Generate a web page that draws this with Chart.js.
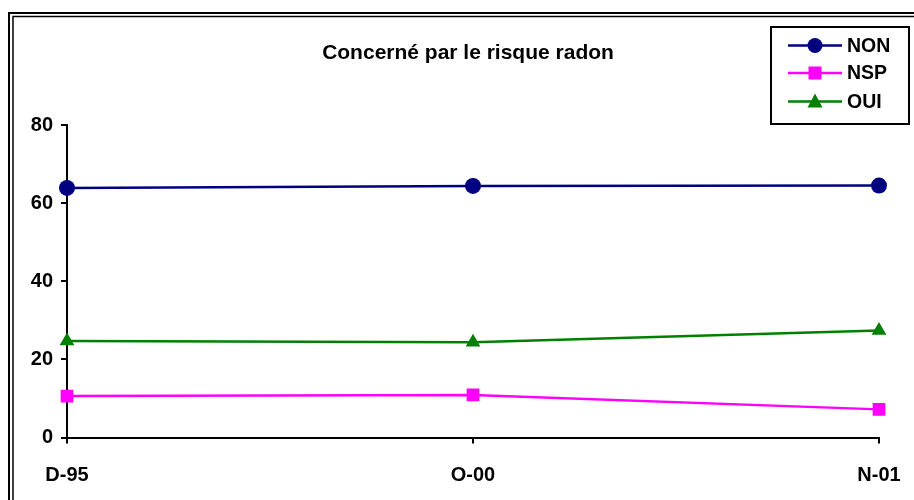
<!DOCTYPE html>
<html>
<head>
<meta charset="utf-8">
<script src="https://cdn.jsdelivr.net/npm/chart.js@4/dist/chart.umd.min.js"></script>
<style>
  html, body { margin: 0; padding: 0; background: #fff; }
  #wrap { width: 914px; height: 500px; }
</style>
</head>
<body>
<div id="wrap"><canvas id="radonChart" width="914" height="500"></canvas></div>
<script>
const chartTitle = "Concerné par le risque radon";
const periods = ["D-95", "O-00", "N-01"];
const nonValues = [63.9, 64.4, 64.5];
const nspValues = [10.6, 10.9, 7.2];
const ouiValues = [24.7, 24.4, 27.4];
const yTicks = [0, 20, 40, 60, 80];

const FONT = "'Liberation Sans', Arial, sans-serif";

/* ---------- frame, title, legend ---------- */

const decorPlugin = {
  id: "decor",
  afterDraw(chart) {
    const ctx = chart.ctx;
    ctx.save();

    // double border round the chart
    ctx.strokeStyle = "#000";
    ctx.lineWidth = 2;
    ctx.strokeRect(9, 13, 940, 520);
    ctx.lineWidth = 1.5;
    ctx.strokeRect(13, 16.5, 940, 520);

    // title
    ctx.fillStyle = "#000";
    ctx.font = "bold 21px " + FONT;
    ctx.textAlign = "center";
    ctx.textBaseline = "middle";
    ctx.fillText(chartTitle, 468, 53);

    // legend box
    ctx.lineWidth = 2;
    ctx.strokeRect(771, 27, 138, 97);
    ctx.fillStyle = "#fff";
    ctx.fillRect(772, 28, 136, 95);

    const rows = [45.5, 73, 101.5];
    chart.data.datasets.forEach((ds, i) => {
      const y = rows[i];
      ctx.strokeStyle = ds.borderColor;
      ctx.lineWidth = 2.5;
      ctx.beginPath();
      ctx.moveTo(788, y);
      ctx.lineTo(842, y);
      ctx.stroke();
      drawMarker(ctx, ds.pointStyle, 815, y, ds.borderColor);
      ctx.fillStyle = "#000";
      ctx.font = "bold 19.5px " + FONT;
      ctx.textAlign = "left";
      ctx.textBaseline = "middle";
      ctx.fillText(ds.label, 847, y + 1);
    });

    ctx.restore();
  }
};

function drawMarker(ctx, style, x, y, color) {
  ctx.fillStyle = color;
  ctx.beginPath();
  if (style === "circle") {
    ctx.arc(x, y, 7.5, 0, Math.PI * 2);
  } else if (style === "rect") {
    ctx.rect(x - 6.5, y - 6.5, 13, 13);
  } else {
    ctx.moveTo(x, y - 8);
    ctx.lineTo(x + 7.5, y + 6);
    ctx.lineTo(x - 7.5, y + 6);
    ctx.closePath();
  }
  ctx.fill();
}

/* ---------- Chart ---------- */

new Chart(document.getElementById("radonChart"), {
  type: "line",
  data: {
    labels: periods,
    datasets: [
      {
        label: "NON",
        data: nonValues,
        borderColor: "#000080",
        backgroundColor: "#000080",
        pointStyle: "circle",
        pointRadius: 8
      },
      {
        label: "NSP",
        data: nspValues,
        borderColor: "#FF00FF",
        backgroundColor: "#FF00FF",
        pointStyle: "rect",
        pointRadius: 9
      },
      {
        label: "OUI",
        data: ouiValues,
        borderColor: "#008000",
        backgroundColor: "#008000",
        pointStyle: "triangle",
        pointRadius: 8.5
      }
    ]
  },
  options: {
    responsive: false,
    animation: false,
    layout: { padding: { left: 0, right: 35, top: 125, bottom: 0 } },
    elements: {
      line: { borderWidth: 2.5, tension: 0, fill: false },
      point: { borderWidth: 0, hoverRadius: 8 }
    },
    plugins: {
      legend: { display: false },
      title: { display: false },
      tooltip: { enabled: false }
    },
    scales: {
      x: {
        offset: false,
        afterFit(s) { s.height = 62.5; s.paddingRight = 0; },
        grid: {
          display: true,
          drawOnChartArea: false,
          drawTicks: true,
          tickLength: 6,
          color: "#000",
          lineWidth: 2
        },
        border: { display: true, color: "#000", width: 2 },
        ticks: {
          color: "#000",
          padding: 20,
          maxRotation: 0,
          font: { family: FONT, size: 20, weight: "bold" }
        }
      },
      y: {
        min: yTicks[0],
        max: yTicks[yTicks.length - 1],
        afterFit(s) { s.width = 67; },
        afterBuildTicks(s) { s.ticks = yTicks.map(v => ({ value: v })); },
        grid: {
          display: true,
          drawOnChartArea: false,
          drawTicks: true,
          tickLength: 6,
          color: "#000",
          lineWidth: 2
        },
        border: { display: true, color: "#000", width: 2 },
        ticks: {
          color: "#000",
          padding: 8,
          font: { family: FONT, size: 20, weight: "bold" }
        }
      }
    }
  },
  plugins: [decorPlugin]
});
</script>
</body>
</html>
